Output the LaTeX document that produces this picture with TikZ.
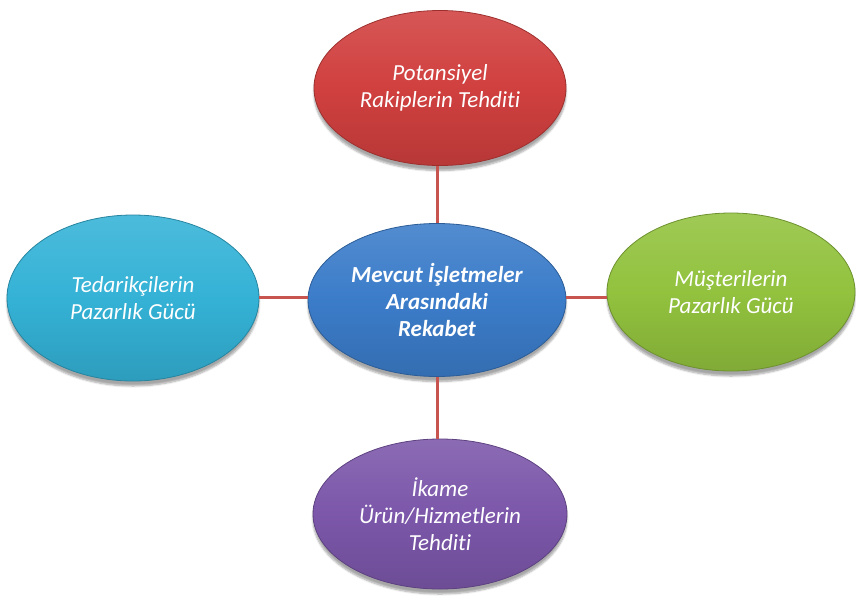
\documentclass[tikz,border=0pt]{standalone}
\usepackage{fontspec}
\setmainfont[Ligatures={NoCommon}]{Carlito}
\usetikzlibrary{shapes.geometric,shadows.blur}
\definecolor{cred}{HTML}{D0403F}
\definecolor{cblue}{HTML}{3B7CC9}
\definecolor{ccyan}{HTML}{34B2D6}
\definecolor{cgreen}{HTML}{92C23E}
\definecolor{cpurple}{HTML}{7C57AA}
\definecolor{cline}{HTML}{C85450}
\tikzset{
  blob/.style={ellipse, draw=#1!75!black, line width=0.8pt, top color=#1!88!white, bottom color=#1!88!black,
    middle color=#1, text=white, align=center, inner sep=0pt,
    blur shadow={shadow xshift=0pt, shadow yshift=-5pt, shadow blur steps=6, shadow opacity=35},
    font=\fontsize{23}{27}\selectfont\itshape},
  link/.style={draw=cline, line width=3pt}
}
\begin{document}
\begin{tikzpicture}[x=1pt,y=-1pt]
\useasboundingbox (0,0) rectangle (856,600);
\coordinate (vx) at (437,0);
\coordinate (hy) at (0,297);
\node[blob=cred, minimum width=252pt, minimum height=155pt] (top) at (440,88) {Potansiyel\\Rakiplerin Tehditi};
\node[blob=cblue, minimum width=258pt, minimum height=153pt, font=\fontsize{23}{27}\selectfont\bfseries\itshape] (mid) at (437,300) {Mevcut İşletmeler\\Arasındaki\\Rekabet};
\node[blob=ccyan, minimum width=252pt, minimum height=166pt] (left) at (133,298) {Tedarikçilerin\\Pazarlık Gücü};
\node[blob=cgreen, minimum width=248pt, minimum height=158pt] (right) at (731,292) {Müşterilerin\\Pazarlık Gücü};
\node[blob=cpurple, minimum width=254pt, minimum height=150pt] (bot) at (440,514) {İkame\\Ürün/Hizmetlerin\\Tehditi};
\draw[link] (vx |- top.south) -- (vx |- mid.north);
\draw[link] (left.east |- hy) -- (mid.west |- hy);
\draw[link] (mid.east |- hy) -- (right.west |- hy);
\draw[link] (vx |- mid.south) -- (vx |- bot.north);
\end{tikzpicture}
\end{document}
